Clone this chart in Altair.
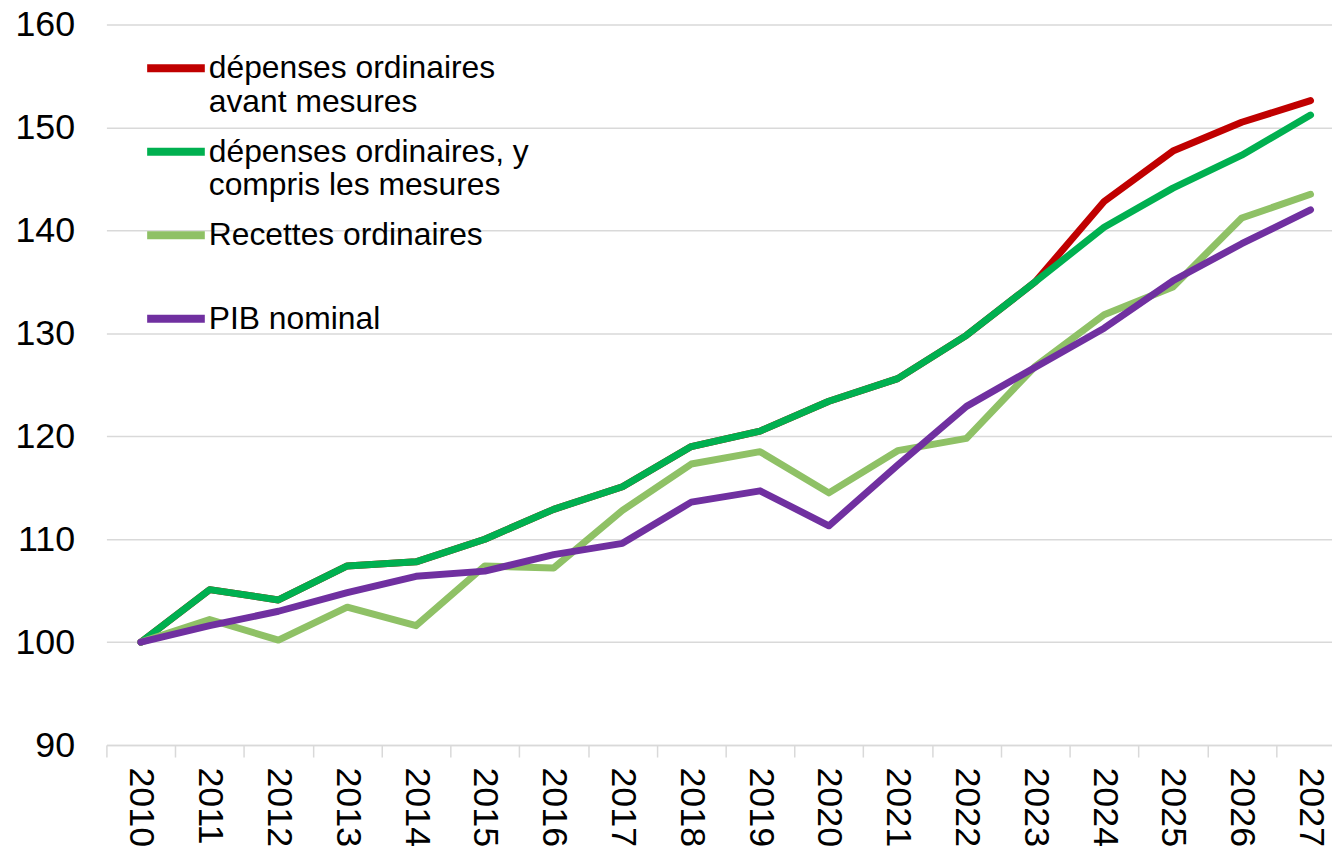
import altair as alt
import pandas as pd

years = ["2010", "2011", "2012", "2013", "2014", "2015", "2016", "2017", "2018",
         "2019", "2020", "2021", "2022", "2023", "2024", "2025", "2026", "2027"]

series_names = [
    "dépenses ordinaires|avant mesures",
    "dépenses ordinaires, y|compris les mesures",
    "Recettes ordinaires| ",
    "PIB nominal",
]
series_colors = ["#C00000", "#00B050", "#8FC166", "#7030A0"]

avant_mesures = [100, 105.1, 104.1, 107.4, 107.8, 110.0, 112.9, 115.1, 119.0, 120.5,
                 123.4, 125.6, 129.8, 135.0, 142.8, 147.7, 150.5, 152.6]
compris_mesures = [100, 105.1, 104.1, 107.4, 107.8, 110.0, 112.9, 115.1, 119.0, 120.5,
                   123.4, 125.6, 129.8, 135.0, 140.3, 144.1, 147.3, 151.2]
recettes = [100, 102.2, 100.2, 103.4, 101.6, 107.4, 107.2, 112.8, 117.3, 118.5,
            114.5, 118.6, 119.8, 126.8, 131.8, 134.5, 141.2, 143.5]
pib_nominal = [100, 101.6, 103.0, 104.8, 106.4, 106.9, 108.5, 109.6, 113.6, 114.7,
               111.3, 117.2, 122.9, 126.7, 130.5, 135.1, 138.7, 142.0]

y_ticks = [90, 100, 110, 120, 130, 140, 150, 160]

rows = []
for name, vals in zip(series_names, [avant_mesures, compris_mesures, recettes, pib_nominal]):
    for yr, v in zip(years, vals):
        rows.append({"year": yr, "value": v, "series": name})
df = pd.DataFrame(rows)

FONT = "Liberation Sans"

chart = alt.Chart(df).mark_line(strokeWidth=7, strokeCap="round", strokeJoin="round").encode(
    x=alt.X("year:N", sort=years, bandPosition=0.5,
            scale=alt.Scale(type="band", range=[0, 1246], paddingInner=0, paddingOuter=0),
            axis=alt.Axis(title=None, labelAngle=90, labelAlign="left", labelBaseline="middle",
                          tickBand="extent", tickSize=12, tickColor="#d9d9d9", tickWidth=1.5,
                          domainColor="#d9d9d9", domainWidth=1.5, grid=False,
                          labelFontSize=36, labelFont=FONT, labelColor="#000000",
                          labelPadding=10)),
    y=alt.Y("value:Q",
            scale=alt.Scale(domain=[90, 160], nice=False, zero=False),
            axis=alt.Axis(title=None, values=y_ticks, domain=False, ticks=False, grid=True,
                          gridColor="#d9d9d9", gridWidth=1.5,
                          labelFontSize=36, labelFont=FONT, labelColor="#000000",
                          labelPadding=32)),
    color=alt.Color("series:N",
                    scale=alt.Scale(domain=series_names, range=series_colors),
                    legend=alt.Legend(title=None, orient="none", legendX=37, legendY=11,
                                      symbolType="stroke", symbolSize=3364, symbolStrokeWidth=8,
                                      labelFontSize=32, labelFont=FONT, labelColor="#000000",
                                      labelOffset=0, labelLimit=800, labelBaseline="middle",
                                      labelExpr="split(datum.label, '|')",
                                      rowPadding=1, padding=0)),
).properties(
    width=1233, height=725,
    autosize=alt.AutoSizeParams(type="none"),
    padding={"left": 99, "top": 14, "right": 0, "bottom": 105},
).configure_view(stroke=None)

chart.save("out.html", embed_options={"renderer": "svg", "actions": False})
